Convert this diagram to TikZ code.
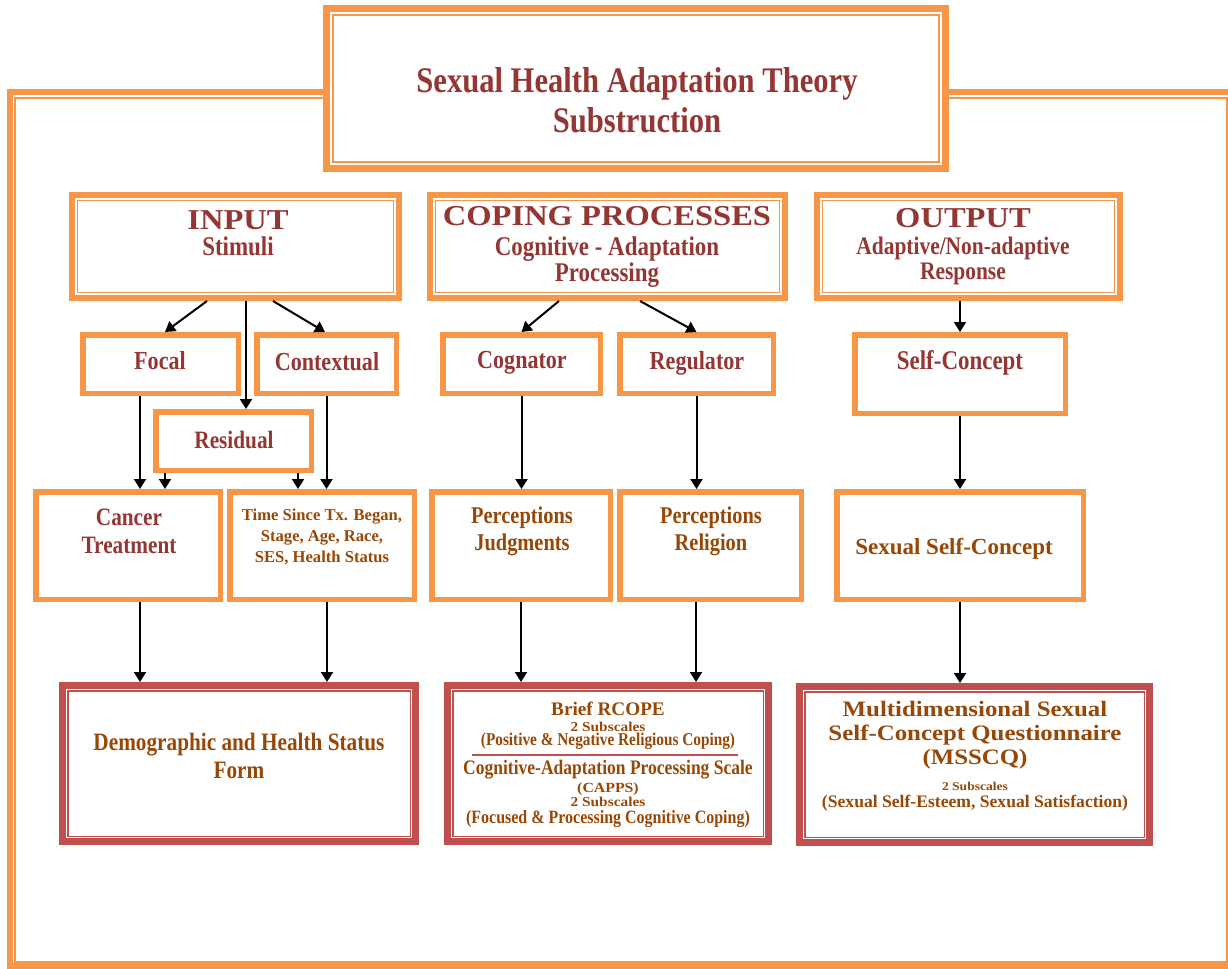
\documentclass[tikz,border=0pt]{standalone}
\usepackage{fontspec}
\usepackage{tikz}
\usetikzlibrary{arrows.meta}
\setmainfont{Liberation Serif}
\newfontfamily\condf[FakeStretch=0.85]{Liberation Serif}
\newfontfamily\normf{Liberation Serif}
\newfontfamily\widef[FakeStretch=1.13]{Liberation Serif}
\definecolor{orangeC}{HTML}{F79646}
\definecolor{redC}{HTML}{C0504D}
\definecolor{headred}{HTML}{943634}
\definecolor{brownC}{HTML}{974806}
\newcommand{\fsz}[2]{\fontsize{#1}{#2}\selectfont}

\begin{document}
\begin{tikzpicture}[x=0.5pt, y=-0.5pt]
  \tikzset{
    obox/.style={draw=orangeC, line width=2.75pt, fill=white, inner sep=0pt},
    hbox/.style={draw=orangeC, line width=3pt, fill=white, inner sep=0pt},
    rbox/.style={draw=redC, line width=3.5pt, fill=white, inner sep=0pt},
    ttxt/.style={align=center, inner sep=0pt, text=headred},
    btxt/.style={align=center, inner sep=0pt, text=brownC},
    arr/.style={-{Triangle[length=5pt,width=6pt]}, line width=1pt},
    thinline/.style={line width=0.8pt}
  }
  \useasboundingbox (0,0) rectangle (1228,969);
  \draw[orangeC, line width=3pt] (10,91.5) rectangle (1231,966);
  \draw[orangeC, line width=1pt] (15,97.5) rectangle (1226.5,962);

  \node[hbox, line width=3.5pt, minimum width=309.5pt, minimum height=80pt] (title) at (636,88.5) {};
  \node[hbox, minimum width=163.5pt, minimum height=51.5pt] (input) at (235.5,246.5) {};
  \node[hbox, minimum width=177.5pt, minimum height=51.5pt] (coping) at (607.5,246.5) {};
  \node[hbox, minimum width=151.5pt, minimum height=51.5pt] (output) at (968.5,246.5) {};
  \foreach \n/\d/\c in {title/5pt/orangeC, input/4.25pt/orangeC, coping/4.25pt/orangeC, output/4.25pt/orangeC}
    \draw[thinline, \c] ([shift={(\d,-\d)}]\n.north west) rectangle ([shift={(-\d,\d)}]\n.south east);

  \node[obox, minimum width=77.75pt, minimum height=29.25pt] (focal) at (160.5,364) {};
  \node[obox, minimum width=69.75pt, minimum height=29.25pt] (contextual) at (326.5,364) {};
  \node[obox, minimum width=77.75pt, minimum height=29.25pt] (residual) at (233.5,441) {};
  \node[obox, minimum width=92.25pt, minimum height=53.75pt] (cancer) at (128,545.5) {};
  \node[obox, minimum width=92.25pt, minimum height=53.75pt] (time) at (322,545.5) {};
  \node[obox, minimum width=78.75pt, minimum height=29.25pt] (cognator) at (521.5,364) {};
  \node[obox, minimum width=76.75pt, minimum height=29.25pt] (regulator) at (696.5,364) {};
  \node[obox, minimum width=89.25pt, minimum height=53.75pt] (judg) at (521,545.5) {};
  \node[obox, minimum width=90.75pt, minimum height=53.75pt] (relig) at (710.5,545.5) {};
  \node[obox, minimum width=105.25pt, minimum height=39.25pt] (selfc) at (960,374) {};
  \node[obox, minimum width=123.25pt, minimum height=53.75pt] (sexselfc) at (960,545.5) {};

  \node[rbox, minimum width=176.5pt, minimum height=78pt] (demog) at (239,763.5) {};
  \node[rbox, minimum width=160.5pt, minimum height=78pt] (rcope) at (608,763.5) {};
  \node[rbox, minimum width=175pt, minimum height=78pt] (msscq) at (974.5,764.5) {};
  \foreach \n in {demog, rcope, msscq}
    \draw[thinline, redC] ([shift={(4.35pt,-4.35pt)}]\n.north west) rectangle ([shift={(-4.35pt,4.35pt)}]\n.south east);

  \node[ttxt, font=\bfseries\condf\fsz{18}{20}] (title-t) at (637,100) {Sexual Health Adaptation Theory\\Substruction};
  \node[ttxt, font=\bfseries\condf\fsz{13.5}{13.25}] (input-t) at (238,233) {{\widef\fsz{14.4}{14}INPUT}\\Stimuli};
  \node[ttxt, font=\bfseries\condf\fsz{13.5}{13}] (coping-t) at (607,247) {{\widef\fsz{14.4}{14}COPING PROCESSES}\\[1.75pt]Cognitive - Adaptation\\Processing};
  \node[ttxt, font=\bfseries\condf\fsz{12.6}{12.5}] (output-t) at (963,246.5) {{\widef\fsz{14.4}{14}OUTPUT}\\[0.75pt]Adaptive/Non-adaptive\\Response};

  \node[ttxt, font=\bfseries\condf\fsz{13}{15}] (focal-t) at (160,361) {Focal};
  \node[ttxt, font=\bfseries\condf\fsz{13}{15}] (contextual-t) at (327,362) {Contextual};
  \node[ttxt, font=\bfseries\condf\fsz{12.5}{15}] (residual-t) at (234,440) {Residual};
  \node[ttxt, font=\bfseries\condf\fsz{12.5}{14}] (cancer-t) at (129,531) {Cancer\\Treatment};
  \node[btxt, font=\bfseries\normf\fsz{8.3}{10.5}] (time-t) at (322,537) {Time Since Tx. Began,\\Stage, Age, Race,\\SES, Health Status};
  \node[ttxt, font=\bfseries\condf\fsz{13}{15}] (cognator-t) at (522,363) {Cognator};
  \node[ttxt, font=\bfseries\condf\fsz{13}{15}] (regulator-t) at (697,363) {Regulator};
  \node[btxt, font=\bfseries\condf\fsz{12}{13.5}] (judg-t) at (522,531) {Perceptions\\Judgments};
  \node[btxt, font=\bfseries\condf\fsz{12}{13.5}] (relig-t) at (711,531) {Perceptions\\Religion};
  \node[ttxt, font=\bfseries\condf\fsz{13.5}{15}] (selfc-t) at (960,363) {Self-Concept};
  \node[btxt, font=\bfseries\normf\fsz{11.5}{14}] (sexselfc-t) at (954,549) {Sexual Self-Concept};

  \node[btxt, font=\bfseries\condf\fsz{12.5}{14}] (demog-t) at (239,756) {Demographic and Health Status\\Form};
  \node[btxt, font=\bfseries\condf\fsz{9}{7.2}] (rcope-t1) at (608,726) {{\normf\fsz{9.6}{10}Brief RCOPE}\\[0.55pt]{\widef\fsz{6.8}{7}2 Subscales}\\(Positive \& Negative Religious Coping)};
  \draw[redC, line width=0.8pt] ([xshift=-68pt,yshift=4.25pt]rcope.center) -- ([xshift=65pt,yshift=4.25pt]rcope.center);
  \node[btxt, font=\bfseries\condf\fsz{9.4}{7}] (rcope-t2) at (608,794) {{\fsz{10.3}{11}Cognitive-Adaptation Processing Scale}\\[1pt]{\widef\fsz{7}{7}(CAPPS)}\\{\widef\fsz{6.8}{7}2 Subscales}\\[1.25pt](Focused \& Processing Cognitive Coping)};
  \node[btxt, font=\bfseries\widef\fsz{11}{12}] (msscq-t1) at (975,735) {Multidimensional Sexual\\Self-Concept Questionnaire\\(MSSCQ)};
  \node[btxt, font=\bfseries\normf\fsz{8.8}{8.4}] (msscq-t2) at (975,797) {{\widef\fsz{6}{7}2 Subscales}\\(Sexual Self-Esteem, Sexual Satisfaction)};

  \draw[arr] ([xshift=-14.25pt]input.south) -- ([xshift=2.25pt]focal.north);
  \draw[arr] ([xshift=18.75pt]input.south) -- ([xshift=-0.75pt]contextual.north);
  \draw[arr] ([xshift=5.25pt]input.south) -- ([xshift=5.25pt]input.south |- residual.north);
  \draw[arr] ([xshift=-10.25pt]focal.south) -- ([xshift=-10.25pt]focal.south |- cancer.north);
  \draw[arr] ([xshift=-34.25pt]residual.south) -- ([xshift=-34.25pt]residual.south |- cancer.north);
  \draw[arr] ([xshift=32.25pt]residual.south) -- ([xshift=32.25pt]residual.south |- time.north);
  \draw[arr] (contextual.south) -- (contextual.south |- time.north);
  \draw[arr] ([xshift=6pt]cancer.south) -- ([xshift=6pt]cancer.south |- demog.north);
  \draw[arr] ([xshift=2.5pt]time.south) -- ([xshift=2.5pt]time.south |- demog.north);
  \draw[arr] ([xshift=-24.25pt]coping.south) -- (cognator.north);
  \draw[arr] ([xshift=16.25pt]coping.south) -- (regulator.north);
  \draw[arr] (cognator.south) -- (cognator.south |- judg.north);
  \draw[arr] (regulator.south) -- (regulator.south |- relig.north);
  \draw[arr] (judg.south) -- (judg.south |- rcope.north);
  \draw[arr] ([xshift=-7.25pt]relig.south) -- ([xshift=-7.25pt]relig.south |- rcope.north);
  \draw[arr] (selfc.north |- output.south) -- (selfc.north);
  \draw[arr] (selfc.south) -- (sexselfc.north);
  \draw[arr] (sexselfc.south) -- (sexselfc.south |- msscq.north);
\end{tikzpicture}
\end{document}
